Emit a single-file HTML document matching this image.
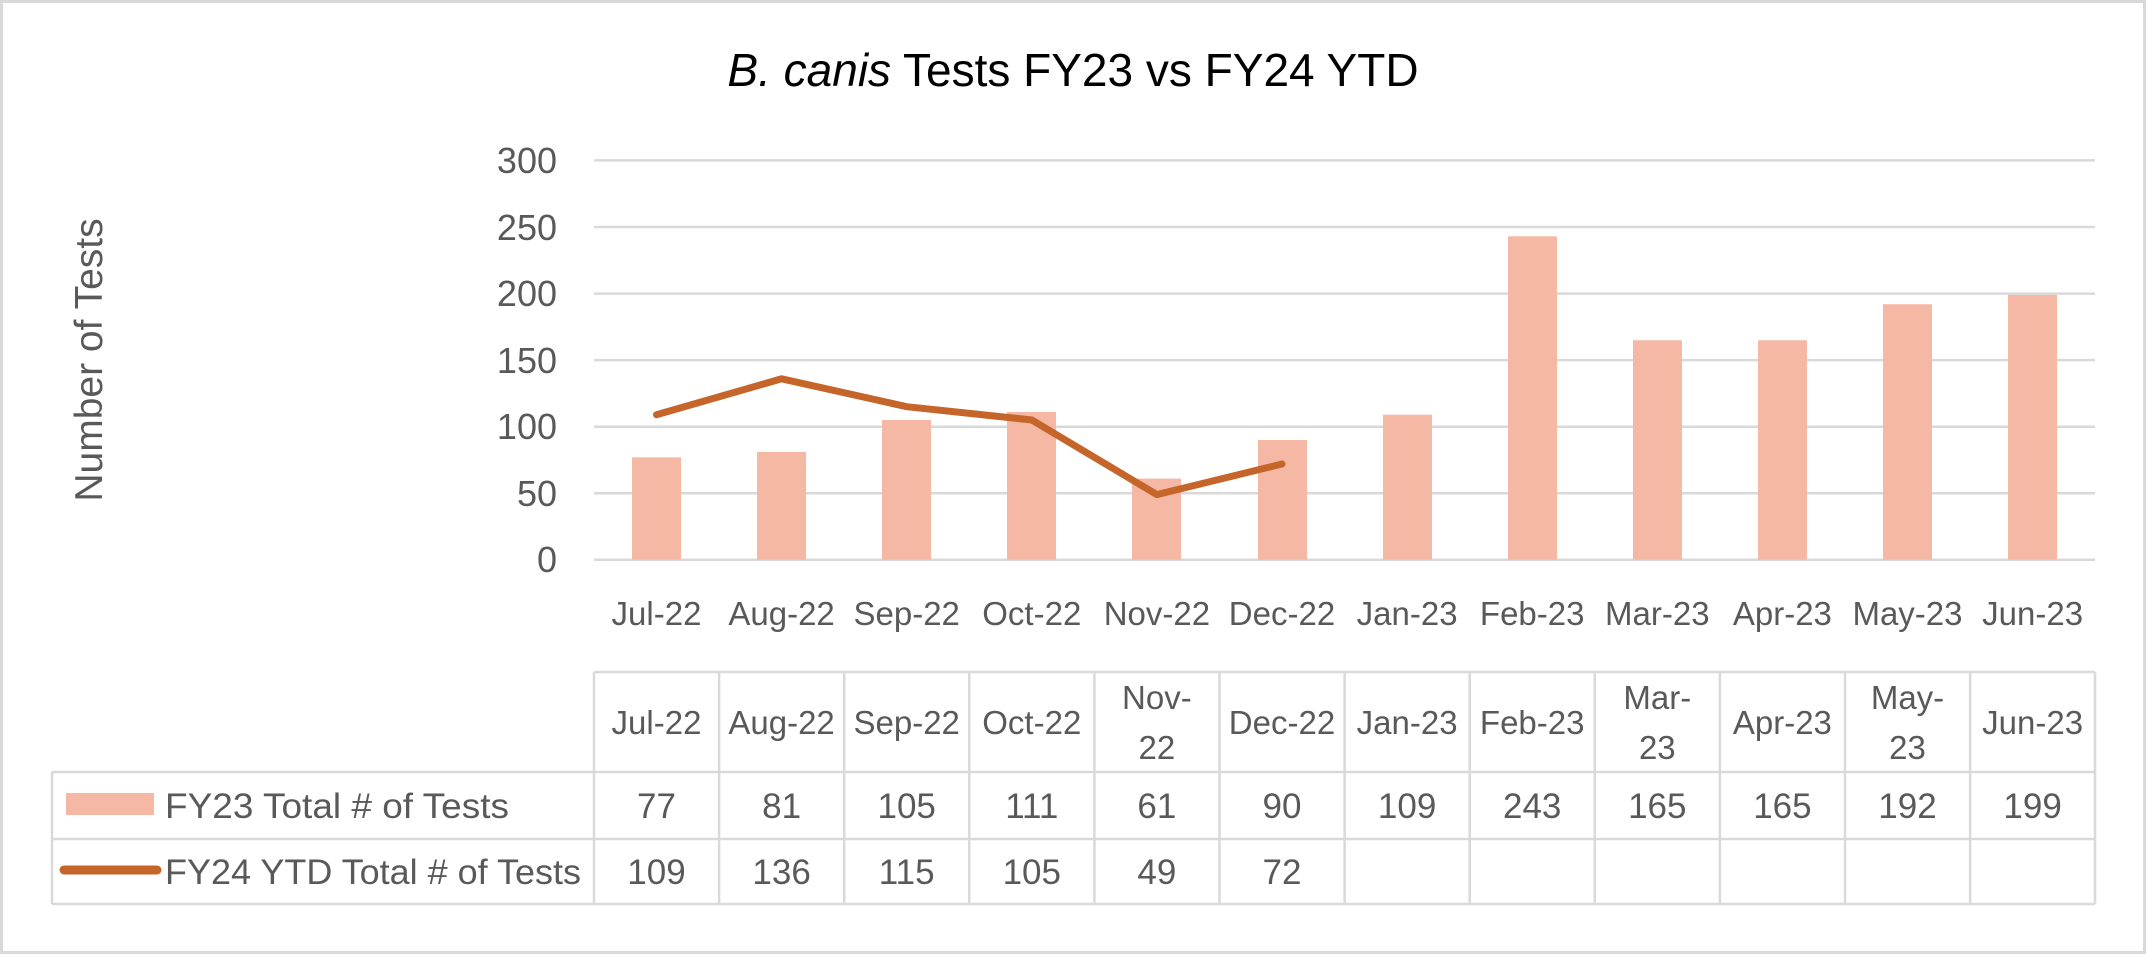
<!DOCTYPE html>
<html><head><meta charset="utf-8"><style>
html,body{margin:0;padding:0;background:#fff;}
svg{display:block;}
text{font-family:"Liberation Sans",sans-serif;fill:#595959;}
</style></head><body>
<svg width="2147" height="956" viewBox="0 0 2147 956" xmlns="http://www.w3.org/2000/svg">
<rect x="1.5" y="1.5" width="2143" height="951" fill="#fff" stroke="#d9d9d9" stroke-width="3"/>
<text x="1073" y="86" text-anchor="middle" font-size="46" style="fill:#000"><tspan font-style="italic">B. canis</tspan> Tests FY23 vs FY24 YTD</text>
<text transform="translate(102,360) rotate(-90)" text-anchor="middle" font-size="39">Number of Tests</text>
<g stroke="#d9d9d9" stroke-width="2.5">
<line x1="594" x2="2095" y1="160.4" y2="160.4"/>
<line x1="594" x2="2095" y1="227" y2="227"/>
<line x1="594" x2="2095" y1="293.6" y2="293.6"/>
<line x1="594" x2="2095" y1="360.1" y2="360.1"/>
<line x1="594" x2="2095" y1="426.7" y2="426.7"/>
<line x1="594" x2="2095" y1="493.2" y2="493.2"/>
<line x1="594" x2="2095" y1="559.8" y2="559.8"/>
</g>
<g font-size="36" text-anchor="end">
<text x="557" y="173">300</text><text x="557" y="240">250</text><text x="557" y="306">200</text>
<text x="557" y="373">150</text><text x="557" y="439">100</text><text x="557" y="506">50</text><text x="557" y="572">0</text>
</g>
<g fill="#f4b8a4">
<rect x="632" y="457.3" width="49" height="102.5"/>
<rect x="757" y="452" width="49" height="107.8"/>
<rect x="882" y="420" width="49" height="139.8"/>
<rect x="1007" y="412" width="49" height="147.8"/>
<rect x="1132" y="478.6" width="49" height="81.2"/>
<rect x="1258" y="440" width="49" height="119.8"/>
<rect x="1383" y="414.7" width="49" height="145.1"/>
<rect x="1508" y="236.3" width="49" height="323.5"/>
<rect x="1633" y="340.2" width="49" height="219.6"/>
<rect x="1758" y="340.2" width="49" height="219.6"/>
<rect x="1883" y="304.2" width="49" height="255.6"/>
<rect x="2008" y="294.9" width="49" height="264.9"/>
</g>
<polyline fill="none" stroke="#c5652a" stroke-width="7" stroke-linecap="round" stroke-linejoin="round"
points="656.5,414.7 781.6,378.8 906.7,406.7 1031.8,420 1156.9,494.6 1282,464"/>
<g font-size="33" text-anchor="middle">
<text x="656.5" y="625">Jul-22</text><text x="781.6" y="625">Aug-22</text><text x="906.7" y="625">Sep-22</text>
<text x="1031.8" y="625">Oct-22</text><text x="1156.9" y="625">Nov-22</text><text x="1282" y="625">Dec-22</text>
<text x="1407.1" y="625">Jan-23</text><text x="1532.2" y="625">Feb-23</text><text x="1657.3" y="625">Mar-23</text>
<text x="1782.4" y="625">Apr-23</text><text x="1907.5" y="625">May-23</text><text x="2032.6" y="625">Jun-23</text>
</g>
<g stroke="#d9d9d9" stroke-width="2.5" fill="none">
<line x1="594" x2="2095" y1="672" y2="672"/>
<line x1="52" x2="2095" y1="772" y2="772"/>
<line x1="52" x2="2095" y1="839" y2="839"/>
<line x1="52" x2="2095" y1="904" y2="904"/>
<line x1="52" x2="52" y1="772" y2="904"/>
<line x1="594" x2="594" y1="672" y2="904"/>
<line x1="719.1" x2="719.1" y1="672" y2="904"/>
<line x1="844.2" x2="844.2" y1="672" y2="904"/>
<line x1="969.3" x2="969.3" y1="672" y2="904"/>
<line x1="1094.4" x2="1094.4" y1="672" y2="904"/>
<line x1="1219.5" x2="1219.5" y1="672" y2="904"/>
<line x1="1344.6" x2="1344.6" y1="672" y2="904"/>
<line x1="1469.7" x2="1469.7" y1="672" y2="904"/>
<line x1="1594.8" x2="1594.8" y1="672" y2="904"/>
<line x1="1719.9" x2="1719.9" y1="672" y2="904"/>
<line x1="1845" x2="1845" y1="672" y2="904"/>
<line x1="1970.1" x2="1970.1" y1="672" y2="904"/>
<line x1="2095" x2="2095" y1="672" y2="904"/>
</g>
<g font-size="33" text-anchor="middle">
<text x="656.5" y="734">Jul-22</text><text x="781.6" y="734">Aug-22</text><text x="906.7" y="734">Sep-22</text>
<text x="1031.8" y="734">Oct-22</text><text x="1156.9" y="709">Nov-</text><text x="1156.9" y="759">22</text>
<text x="1282" y="734">Dec-22</text><text x="1407.1" y="734">Jan-23</text><text x="1532.2" y="734">Feb-23</text>
<text x="1657.3" y="709">Mar-</text><text x="1657.3" y="759">23</text><text x="1782.4" y="734">Apr-23</text>
<text x="1907.5" y="709">May-</text><text x="1907.5" y="759">23</text><text x="2032.6" y="734">Jun-23</text>
</g>
<g font-size="35" text-anchor="middle">
<text x="656.5" y="818">77</text><text x="781.6" y="818">81</text><text x="906.7" y="818">105</text>
<text x="1031.8" y="818">111</text><text x="1156.9" y="818">61</text><text x="1282" y="818">90</text>
<text x="1407.1" y="818">109</text><text x="1532.2" y="818">243</text><text x="1657.3" y="818">165</text>
<text x="1782.4" y="818">165</text><text x="1907.5" y="818">192</text><text x="2032.6" y="818">199</text>
<text x="656.5" y="884">109</text><text x="781.6" y="884">136</text><text x="906.7" y="884">115</text>
<text x="1031.8" y="884">105</text><text x="1156.9" y="884">49</text><text x="1282" y="884">72</text>
</g>
<rect x="66" y="793" width="88" height="22" fill="#f4b8a4"/>
<line x1="64" x2="157" y1="870" y2="870" stroke="#c5652a" stroke-width="9" stroke-linecap="round"/>
<text x="165" y="818" font-size="35" textLength="344" lengthAdjust="spacingAndGlyphs">FY23 Total # of Tests</text>
<text x="165" y="884" font-size="35" textLength="416" lengthAdjust="spacingAndGlyphs">FY24 YTD Total # of Tests</text>
</svg>
</body></html>
